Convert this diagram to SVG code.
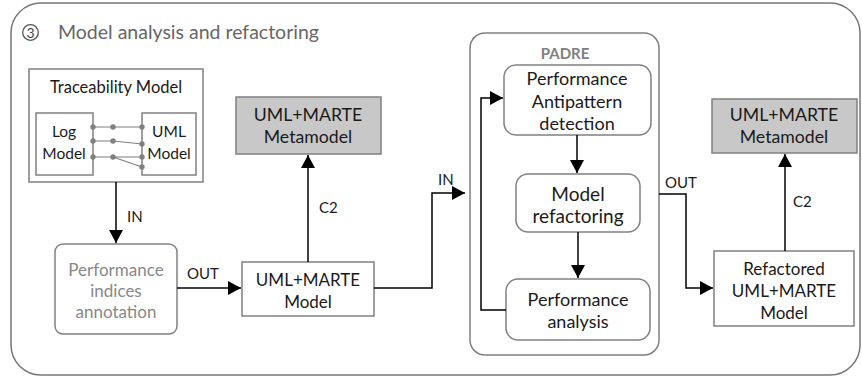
<svg xmlns="http://www.w3.org/2000/svg" width="862" height="377" viewBox="0 0 862 377">
<defs>
<marker id="ah" markerUnits="userSpaceOnUse" markerWidth="14" markerHeight="14" refX="13" refY="7" orient="auto">
<path d="M0,0 L13,7 L0,14 z" fill="#000"/>
</marker>
</defs>
<style>
text{font-family:Lato,"Liberation Sans",sans-serif;font-size:17px;fill:#1a1a1a;text-anchor:middle}
.box{fill:#fff;stroke:#808080;stroke-width:1.5}
.meta{fill:#c8c8c8;stroke:#808080;stroke-width:1.5}
.arr{fill:none;stroke:#000;stroke-width:1.5;marker-end:url(#ah)}
.lbl{font-size:15px;text-anchor:start}
.tl{stroke:#808080;stroke-width:1.2;fill:none}
.dot{fill:#808080}
.p18{font-size:18px}
</style>
<rect x="11" y="3" width="849" height="372" rx="30" fill="#fff" stroke="#777" stroke-width="1.5"/>
<g id="title">
<circle cx="30.5" cy="32.5" r="7.8" fill="none" stroke="#555" stroke-width="1.3"/>
<text x="30.5" y="37.5" style="font-size:14px;fill:#444">3</text>
<text x="58" y="39" style="text-anchor:start;font-size:19.5px;fill:#666">Model analysis and refactoring</text>
</g>
<g id="traceability">
<rect class="box" x="29" y="69" width="174" height="113"/>
<text x="116" y="93" style="font-size:16.5px">Traceability Model</text>
<rect class="box" x="36" y="113" width="57" height="62"/>
<text x="64" y="137" style="font-size:15.5px">Log</text>
<text x="64" y="159" style="font-size:15.5px">Model</text>
<rect class="box" x="142" y="113" width="54" height="62"/>
<text x="169" y="137" style="font-size:15.5px">UML</text>
<text x="169" y="159" style="font-size:15.5px">Model</text>
<path class="tl" d="M93,127 H142 M93,141 H113 L142,144 M93,157 H142 M113,157 L142,167"/>
<circle class="dot" cx="93" cy="127" r="2.7"/><circle class="dot" cx="113" cy="127" r="2.7"/><circle class="dot" cx="142" cy="127" r="2.7"/>
<circle class="dot" cx="93" cy="141" r="2.7"/><circle class="dot" cx="113" cy="141" r="2.7"/><circle class="dot" cx="142" cy="144" r="2.7"/>
<circle class="dot" cx="93" cy="157" r="2.7"/><circle class="dot" cx="113" cy="157" r="2.7"/><circle class="dot" cx="142" cy="157" r="2.7"/><circle class="dot" cx="142" cy="167" r="2.7"/>
</g>
<g id="metamodel1">
<rect class="meta" x="236" y="97" width="145" height="57"/>
<text x="308" y="121" style="font-size:17.7px">UML+MARTE</text>
<text x="308" y="143" style="font-size:17.7px">Metamodel</text>
</g>
<g id="annotation">
<rect class="box" x="55" y="244" width="122" height="90" rx="8"/>
<text x="116" y="276" style="fill:#888">Performance</text>
<text x="116" y="297" style="fill:#888">indices</text>
<text x="116" y="318" style="fill:#888">annotation</text>
</g>
<g id="model1">
<rect class="box" x="242" y="262" width="132" height="54"/>
<text x="308" y="286">UML+MARTE</text>
<text x="308" y="308">Model</text>
</g>
<g id="padre">
<rect class="box" x="470" y="33" width="189" height="322" rx="15"/>
<text x="565" y="59" style="font-size:15px;font-weight:bold;fill:#808080">PADRE</text>
</g>
<g id="detection">
<rect class="box" x="504" y="65" width="147" height="70" rx="12"/>
<text class="p18" x="577" y="85">Performance</text>
<text class="p18" x="577" y="108">Antipattern</text>
<text class="p18" x="577" y="130">detection</text>
</g>
<g id="refactoring">
<rect class="box" x="516" y="174" width="124" height="58" rx="12"/>
<text x="578" y="201" style="font-size:19px">Model</text>
<text x="578" y="223" style="font-size:19px">refactoring</text>
</g>
<g id="analysis">
<rect class="box" x="506" y="279" width="144" height="61" rx="12"/>
<text class="p18" x="578" y="306">Performance</text>
<text class="p18" x="578" y="328">analysis</text>
</g>
<g id="metamodel2">
<rect class="meta" x="712" y="99" width="145" height="54"/>
<text x="784" y="121" style="font-size:17.7px">UML+MARTE</text>
<text x="784" y="143" style="font-size:17.7px">Metamodel</text>
</g>
<g id="refactored">
<rect class="box" x="714" y="251" width="140" height="75"/>
<text x="784" y="275">Refactored</text>
<text x="784" y="297">UML+MARTE</text>
<text x="784" y="319">Model</text>
</g>
<g id="connectors">
<path class="arr" d="M116,182 V243"/>
<text class="lbl" x="127" y="222">IN</text>
<path class="arr" d="M177,288 H241"/>
<text class="lbl" x="187" y="279">OUT</text>
<path class="arr" d="M308,262 V155"/>
<text class="lbl" x="319" y="213">C2</text>
<path class="arr" d="M374,288 H432 V193 H465"/>
<text class="lbl" x="438" y="185">IN</text>
<path class="arr" d="M577,135 V173"/>
<path class="arr" d="M578,232 V278"/>
<path class="arr" d="M506,310 H481 V98 H503"/>
<path class="arr" d="M659,194 H686 V288 H713"/>
<text class="lbl" x="665" y="188">OUT</text>
<path class="arr" d="M785,251 V154"/>
<text class="lbl" x="793" y="207">C2</text>
</g>
</svg>
